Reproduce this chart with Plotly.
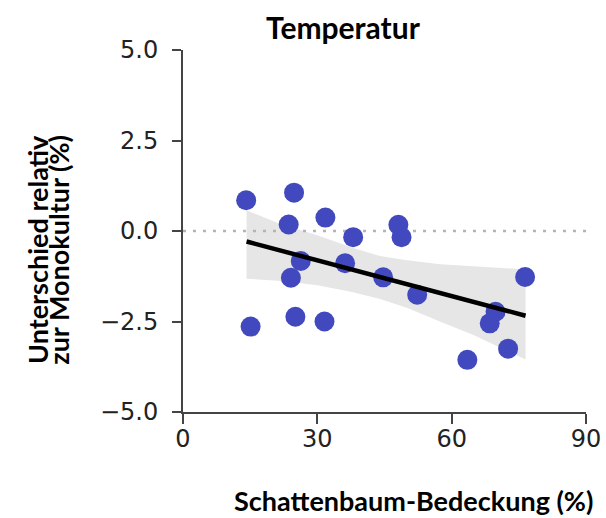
import plotly.graph_objects as go

# Schattenbaum-Bedeckung (%) und Unterschied relativ zur Monokultur (%)
cover = [14.1, 24.8, 23.6, 31.8, 38.0, 48.1, 48.8, 26.3, 24.1, 36.2,
         44.7, 52.3, 76.4, 69.8, 68.5, 72.6, 63.5, 15.1, 25.1, 31.6]
diff = [0.85, 1.06, 0.18, 0.37, -0.17, 0.17, -0.17, -0.83, -1.29, -0.89,
        -1.28, -1.76, -1.27, -2.23, -2.55, -3.25, -3.56, -2.64, -2.37, -2.50]

# Regressionsgerade (Endpunkte) und Konfidenzband
fit_x = [14.2, 76.5]
fit_y = [-0.29, -2.34]
band_x = [14.2, 22, 30, 38, 44, 50, 57.5, 65, 76.5]
band_hi = [0.57, 0.18, -0.12, -0.47, -0.69, -0.81, -0.92, -0.98, -1.06]
band_lo = [-1.32, -1.38, -1.50, -1.69, -1.88, -2.12, -2.51, -2.88, -3.55]

x_ticks = [0, 30, 60, 90]
y_ticks = [-5.0, -2.5, 0.0, 2.5, 5.0]

fig = go.Figure()

# Konfidenzband
fig.add_trace(go.Scatter(
    x=band_x + band_x[::-1],
    y=band_hi + band_lo[::-1],
    fill='toself', fillcolor='#e6e6e6',
    line=dict(width=0), mode='lines', hoverinfo='skip'
))

# Nulllinie
fig.add_trace(go.Scatter(
    x=[x_ticks[0], x_ticks[-1]], y=[0, 0],
    mode='lines', line=dict(color='#b4b4b4', width=2.5, dash='3px,7px'),
    hoverinfo='skip'
))

# Messpunkte
fig.add_trace(go.Scatter(
    x=cover, y=diff, mode='markers',
    marker=dict(color='#4249be', size=20, line=dict(width=0))
))

# Regressionslinie
fig.add_trace(go.Scatter(
    x=fit_x, y=fit_y, mode='lines',
    line=dict(color='black', width=4.5)
))

axis_common = dict(
    showgrid=False, zeroline=False, showline=True, automargin=False,
    linecolor='#444444', linewidth=2,
    ticks='outside', tickcolor='#444444', tickwidth=2,
    tickfont=dict(family='DejaVu Sans', size=24, color='#222222'),
)
fig.update_xaxes(range=[0, 90], tickvals=x_ticks, ticklen=10,
                 ticklabelstandoff=-6, **axis_common)
fig.update_yaxes(range=[-5, 5], tickvals=y_ticks, tickformat='.1f', ticklen=9,
                 ticklabelstandoff=9, **axis_common)

bold = dict(family='Lato', color='black')
fig.update_layout(
    width=606, height=518,
    margin=dict(l=183, r=20, t=50, b=106),
    plot_bgcolor='white', paper_bgcolor='white',
    showlegend=False,
    annotations=[
        dict(text='<b>Temperatur</b>', xref='paper', yref='paper',
             x=0.398, y=1.064, showarrow=False, font=dict(size=30, **bold),
             xanchor='center', yanchor='middle'),
        dict(text='<b>Schattenbaum-Bedeckung (%)</b>', xref='paper', yref='paper',
             x=0.572, y=-0.245, showarrow=False, font=dict(size=27, **bold),
             xanchor='center', yanchor='middle'),
        dict(text='<b>Unterschied relativ</b>', xref='paper', yref='paper',
             x=-0.361, y=0.771, showarrow=False, textangle=-90,
             font=dict(size=27, **bold), xanchor='center', yanchor='top'),
        dict(text='<b>zur Monokultur (%)</b>', xref='paper', yref='paper',
             x=-0.308, y=0.771, showarrow=False, textangle=-90,
             font=dict(size=27, **bold), xanchor='center', yanchor='top'),
    ],
)

# Seitenrand entfernen, damit die Grafik genau ins Fenster passt
fig.write_html("out.html", config={'displayModeBar': False},
               post_script="document.body.style.margin = '0';")
